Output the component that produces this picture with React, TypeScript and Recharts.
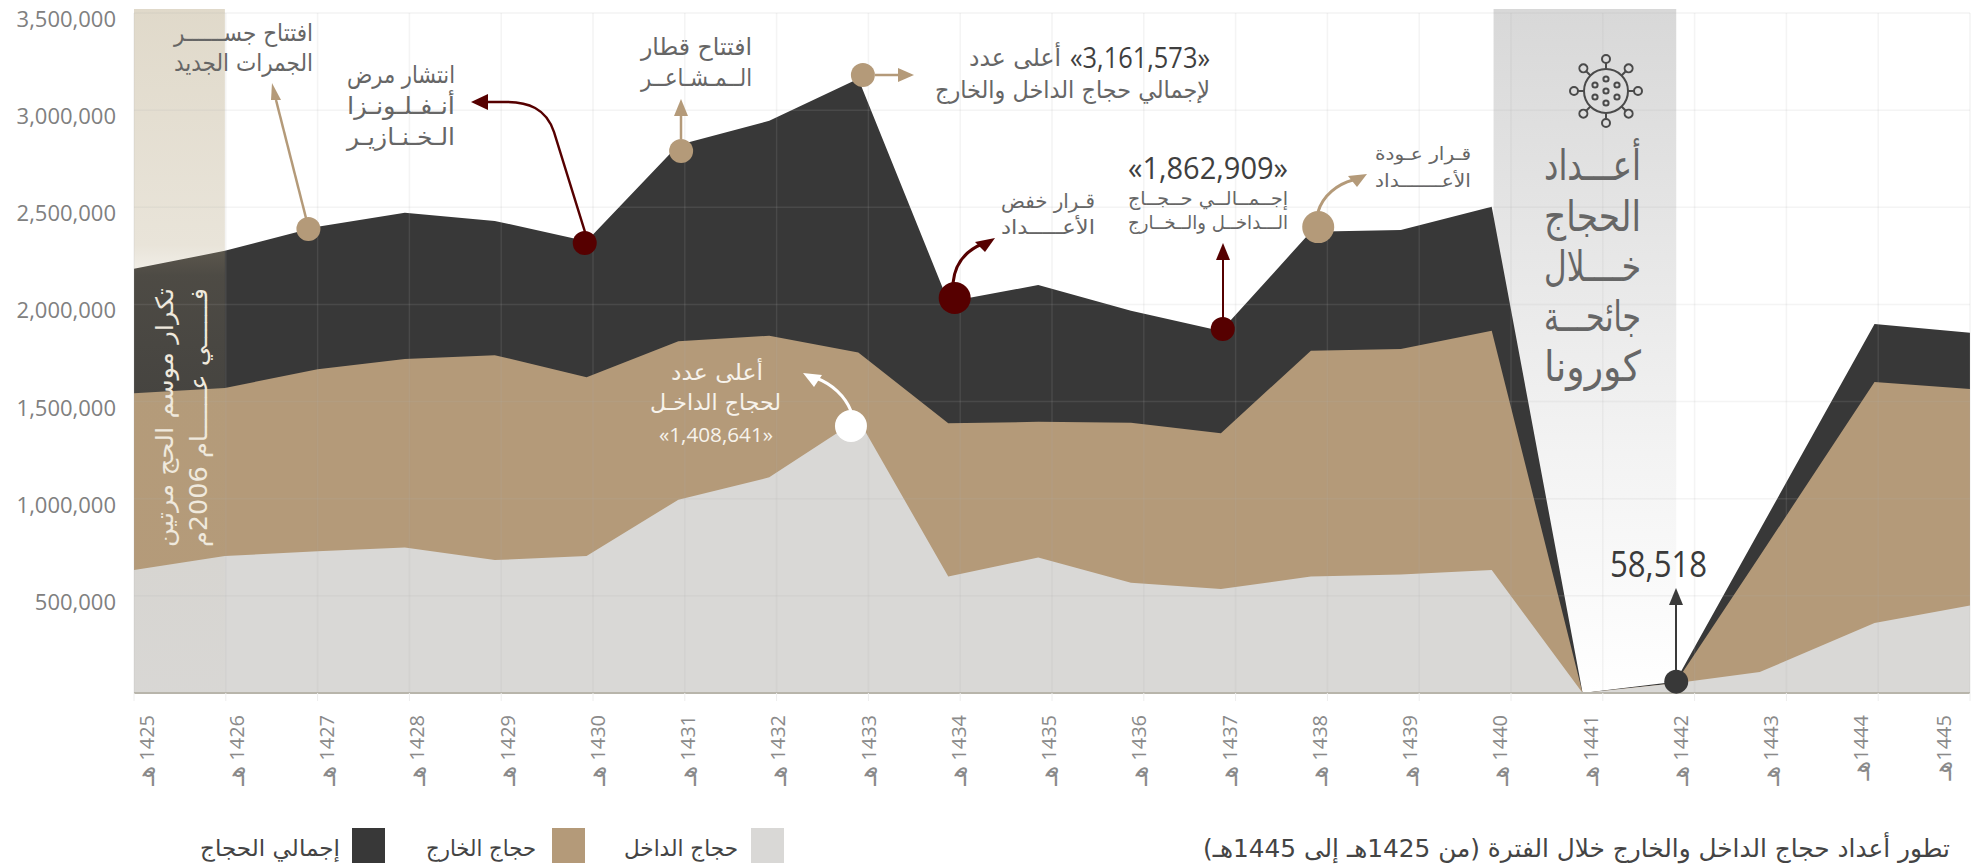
import React from 'react';
import { AreaChart, Area, XAxis, YAxis, ReferenceLine, ReferenceArea, ReferenceDot, Legend } from 'recharts';

const yearPositions = [1425, 1425.99, 1427.0, 1427.95, 1428.93, 1429.93, 1430.93, 1431.92, 1432.89, 1433.87, 1434.85, 1435.86, 1436.84, 1437.82, 1438.8, 1439.79, 1440.78, 1441.79, 1442.71, 1443.96, 1445];
const totalPilgrims = [2183000, 2276000, 2400000, 2472000, 2430000, 2325000, 2820000, 2945000, 3161573, 2014000, 2100000, 1968000, 1862909, 2374000, 2383000, 2503000, 0, 58518, 839000, 1899000, 1854000];
const foreignPilgrims = [1543000, 1570000, 1667000, 1719000, 1739000, 1625000, 1811000, 1839000, 1752932, 1388000, 1396000, 1391000, 1337000, 1762000, 1770000, 1865000, 0, 50000, 705000, 1601000, 1565000];
const domesticPilgrims = [633000, 705000, 730000, 749000, 684000, 705000, 995000, 1110000, 1408641, 600000, 697000, 567000, 535000, 600000, 610000, 633000, 0, 50000, 108000, 360000, 450000];
const yearTicks = [1425, 1426, 1427, 1428, 1429, 1430, 1431, 1432, 1433, 1434, 1435, 1436, 1437, 1438, 1439, 1440, 1441, 1442, 1443, 1444, 1445];
const valueTicks = [500000, 1000000, 1500000, 2000000, 2500000, 3000000, 3500000];

const chartData = yearPositions.map((pos, i) => ({
  pos,
  total: totalPilgrims[i],
  foreign: foreignPilgrims[i],
  domestic: domesticPilgrims[i],
}));

const DARK = '#383838';
const TAN = '#b49a79';
const LIGHT = '#d9d8d6';
const MAROON = '#560000';
const NOTE = '#666666';
const GRID = 'rgba(180,180,180,0.14)';
const AR = '"DejaVu Sans", sans-serif';
const NUM = '"Open Sans", sans-serif';

const markers = [
  { x: 1426.9, y: 2388000, r: 12, fill: TAN },
  { x: 1429.91, y: 2316000, r: 12, fill: MAROON },
  { x: 1430.96, y: 2790000, r: 12, fill: TAN },
  { x: 1432.94, y: 3181000, r: 12, fill: TAN },
  { x: 1433.94, y: 2033000, r: 16, fill: MAROON },
  { x: 1436.86, y: 1874000, r: 12, fill: MAROON },
  { x: 1437.9, y: 2398000, r: 16, fill: TAN },
  { x: 1432.81, y: 1374000, r: 16, fill: '#ffffff' },
  { x: 1441.8, y: 58518, r: 12, fill: DARK },
];

type Note = { t: string; x: number; y: number; w: number; s: number; c?: string; num?: boolean };
const notes: Note[] = [
  { t: 'افتتاح جســــــر', x: 313, y: 33, w: 139, s: 24 },
  { t: 'الجمرات الجديد', x: 313, y: 63, w: 139, s: 24 },
  { t: 'انتشار مرض', x: 455, y: 75, w: 108, s: 24 },
  { t: 'أنـفـلـونـزا', x: 455, y: 106, w: 108, s: 24 },
  { t: 'الـخـنـازيـر', x: 455, y: 137, w: 108, s: 24 },
  { t: 'افتتاح قطار', x: 752, y: 47, w: 111, s: 24 },
  { t: 'الــمـشـاعــر', x: 752, y: 78, w: 111, s: 24 },
  { t: '«3,161,573»', x: 1210, y: 56, w: 140, s: 30, c: '#3f3f3f', num: true },
  { t: 'أعلى عدد', x: 1061, y: 58, w: 92, s: 24 },
  { t: 'لإجمالي حجاج الداخل والخارج', x: 1210, y: 90, w: 275, s: 24 },
  { t: 'قـرار خفض', x: 1095, y: 201, w: 94, s: 20 },
  { t: 'الأعـــــداد', x: 1095, y: 227, w: 94, s: 20 },
  { t: '«1,862,909»', x: 1288, y: 167, w: 160, s: 31, c: '#3f3f3f', num: true },
  { t: 'إجــمــالــي حــجــاج', x: 1288, y: 198, w: 160, s: 19 },
  { t: 'الـــداخــل والــخــارج', x: 1288, y: 222, w: 160, s: 19 },
  { t: 'قـرار عـودة', x: 1471, y: 153, w: 96, s: 18 },
  { t: 'الأعـــــــداد', x: 1471, y: 180, w: 96, s: 18 },
  { t: 'أعلى عدد', x: 763, y: 372, w: 92, s: 22, c: '#f7f3ec' },
  { t: 'لحجاج الداخـل', x: 781, y: 402, w: 131, s: 22, c: '#f7f3ec' },
  { t: '«1,408,641»', x: 773, y: 434, w: 114, s: 20, c: '#f7f3ec', num: true },
  { t: 'أعـــداد', x: 1641, y: 165, w: 97, s: 42 },
  { t: 'الحجاج', x: 1641, y: 216, w: 97, s: 42 },
  { t: 'خــــلال', x: 1641, y: 266, w: 97, s: 42 },
  { t: 'جائحـــة', x: 1641, y: 316, w: 97, s: 42 },
  { t: 'كورونا', x: 1641, y: 366, w: 97, s: 42 },
  { t: '58,518', x: 1707, y: 563, w: 97, s: 36, c: '#3a3a3a', num: true },
  { t: 'تطور أعداد حجاج الداخل والخارج خلال الفترة (من 1425هـ إلى 1445هـ)', x: 1950, y: 848, w: 747, s: 25, c: '#444444' },
];

const verticalNotes = [
  { t: 'تكرار موسم الحج مرتين', cx: 165, top: 288, w: 259, s: 24 },
  { t: 'فــــــي عــــــام 2006م', cx: 199, top: 288, w: 259, s: 24 },
];

const arrows = [
  { d: 'M306 218 L276 100', c: TAN, w: 2.5 },
  { d: 'M585 232 L554 132 C546 108 528 102 505 102 L488 102', c: MAROON, w: 2.5 },
  { d: 'M681 139 L681 115', c: TAN, w: 2.5 },
  { d: 'M875 75 L899 75', c: TAN, w: 2.5 },
  { d: 'M953 283 C955 262 968 250 982 244', c: MAROON, w: 3 },
  { d: 'M1223 318 L1223 258', c: MAROON, w: 2 },
  { d: 'M1318 212 C1323 195 1338 184 1353 180', c: TAN, w: 3 },
  { d: 'M851 411 C845 396 832 384 816 378', c: '#ffffff', w: 3 },
  { d: 'M1676 671 L1676 603', c: '#3a3a3a', w: 2 },
];
const heads = [
  { p: '272,83 281,100 271,100', c: TAN },
  { p: '471,102 488,94 488,110', c: MAROON },
  { p: '681,99 674,116 688,116', c: TAN },
  { p: '914,75 898,68 898,82', c: TAN },
  { p: '995,238 975,242 985,252', c: MAROON },
  { p: '1223,243 1216,260 1230,260', c: MAROON },
  { p: '1367,174 1348,176 1357,187', c: TAN },
  { p: '803,373 822,375 814,387', c: '#ffffff' },
  { p: '1676,588 1669,605 1683,605', c: '#3a3a3a' },
];

const spikeAngles = [0, 45, 90, 135, 180, 225, 270, 315];
const innerSpots = [[0, 0], [0, -12], [0, 12], [-11, -6], [11, -6], [-11, 6], [11, 6]];

const legendItems = [
  { label: 'حجاج الداخل', color: LIGHT, swatch: 751, right: 738, w: 114 },
  { label: 'حجاج الخارج', color: TAN, swatch: 552, right: 536, w: 110 },
  { label: 'إجمالي الحجاج', color: DARK, swatch: 352, right: 340, w: 140 },
];

const fitted = (n: Note, key: number) => (
  <text
    key={key}
    x={n.x}
    y={n.y}
    direction={n.num ? 'ltr' : 'rtl'}
    textAnchor={n.num ? 'end' : 'start'}
    dominantBaseline="central"
    fontFamily={n.num ? NUM : AR}
    fontSize={n.s}
    fill={n.c ?? NOTE}
    textLength={n.w}
    lengthAdjust="spacingAndGlyphs"
  >
    {n.t}
  </text>
);

const ValueTick = (props: any) => (
  <text x={props.x} y={props.y + 5} textAnchor="end" dominantBaseline="central" fontFamily={NUM} fontSize={22} fill="#808080">
    {Number(props.payload.value).toLocaleString('en-US')}
  </text>
);

const YearTick = (props: any) => {
  const { x, payload } = props;
  const year = Number(payload.value);
  const labelX = x + 12 - (year - 1425) * 1.55;
  return (
    <g transform={`translate(${labelX},715) rotate(-90)`}>
      <text textAnchor="end" direction="ltr" dominantBaseline="central" fontFamily={NUM} fontSize={20} fill="#8a8a8a">
        <tspan fontFamily={AR} fontSize={24}>{'هـ\u200E'}</tspan>
        {year >= 1444 ? `\u200E${year}` : `\u200E  ${year}`}
      </text>
    </g>
  );
};

const LegendBox = () => (
  <div style={{ position: 'relative', width: 1978, height: 38 }}>
    {legendItems.map((it) => (
      <div key={it.label}>
        <div style={{ position: 'absolute', left: it.swatch, top: 0, width: 33, height: 35, background: it.color }} />
        <svg style={{ position: 'absolute', left: it.right - it.w, top: 0, overflow: 'visible' }} width={it.w} height={38}>
          <text x={it.w} y={20} direction="rtl" textAnchor="start" dominantBaseline="central" fontFamily={AR} fontSize={23} fill="#444444" textLength={it.w} lengthAdjust="spacingAndGlyphs">
            {it.label}
          </text>
        </svg>
      </div>
    ))}
  </div>
);

export default function App() {
  return (
    <div style={{ position: 'absolute', left: 0, top: 0, width: 1978, height: 866, overflow: 'hidden', background: '#fff' }}>
      <AreaChart width={1978} height={866} data={chartData} margin={{ top: 13, right: 8, bottom: 35, left: 0 }}>
        <defs>
          <linearGradient id="covidBand" x1="0" y1="0" x2="0" y2="1">
            <stop offset="0" stopColor="#d8d8d8" />
            <stop offset="0.65" stopColor="#f3f3f3" />
            <stop offset="1" stopColor="#ffffff" />
          </linearGradient>
          <linearGradient id="seasonBand" x1="0" y1="0" x2="0" y2="1">
            <stop offset="0" stopColor="#b5a581" stopOpacity="0.42" />
            <stop offset="0.345" stopColor="#b5a581" stopOpacity="0.3" />
            <stop offset="0.39" stopColor="#b5a581" stopOpacity="0.17" />
            <stop offset="0.6" stopColor="#b5a581" stopOpacity="0.1" />
            <stop offset="1" stopColor="#b5a581" stopOpacity="0.02" />
          </linearGradient>
        </defs>
        <ReferenceArea x1={1439.81} x2={1441.8} y1={0} y2={3520000} fill="url(#covidBand)" fillOpacity={1} stroke="none" ifOverflow="visible" />
        <XAxis
          dataKey="pos"
          type="number"
          domain={[1425, 1445]}
          ticks={yearTicks}
          height={100}
          tick={<YearTick />}
          tickLine={{ stroke: '#eeeeee' }}
          tickSize={8}
          axisLine={{ stroke: '#b8b5ab', strokeWidth: 2 }}
        />
        <YAxis
          type="number"
          domain={[0, 3500000]}
          ticks={valueTicks}
          width={134}
          tick={<ValueTick />}
          tickLine={false}
          tickSize={0}
          tickMargin={18}
          axisLine={false}
        />
        <Area type="linear" dataKey="total" name="إجمالي الحجاج" stroke="none" fill={DARK} fillOpacity={1} dot={false} activeDot={false} isAnimationActive={false} />
        <Area type="linear" dataKey="foreign" name="حجاج الخارج" stroke="none" fill={TAN} fillOpacity={1} dot={false} activeDot={false} isAnimationActive={false} />
        <Area type="linear" dataKey="domestic" name="حجاج الداخل" stroke="none" fill={LIGHT} fillOpacity={1} dot={false} activeDot={false} isAnimationActive={false} />
        {valueTicks.map((v) => (
          <ReferenceLine key={v} y={v} stroke={GRID} strokeWidth={1.5} />
        ))}
        {yearTicks.map((v) => (
          <ReferenceLine key={v} x={v} stroke={GRID} strokeWidth={1.5} />
        ))}
        <ReferenceArea x1={1425} x2={1425.99} y1={0} y2={3520000} fill="url(#seasonBand)" fillOpacity={1} stroke="none" ifOverflow="visible" />
        {markers.map((m, i) => (
          <ReferenceDot key={i} x={m.x} y={m.y} r={m.r} fill={m.fill} stroke="none" ifOverflow="visible" />
        ))}
        <Legend content={<LegendBox />} wrapperStyle={{ position: 'absolute', left: 0, top: 828, width: 1978, height: 38 }} />
      </AreaChart>
      <svg width={1978} height={866} style={{ position: 'absolute', left: 0, top: 0, pointerEvents: 'none' }}>
        {arrows.map((a, i) => (
          <path key={i} d={a.d} fill="none" stroke={a.c} strokeWidth={a.w} />
        ))}
        {heads.map((h, i) => (
          <polygon key={i} points={h.p} fill={h.c} />
        ))}
        {notes.map(fitted)}
        {verticalNotes.map((v, i) => (
          <g key={i} transform={`translate(${v.cx},${v.top}) rotate(-90)`}>
            <text x={0} y={0} direction="rtl" textAnchor="start" dominantBaseline="central" fontFamily={AR} fontSize={v.s} fill="#efe9dd" textLength={v.w} lengthAdjust="spacingAndGlyphs">
              {v.t}
            </text>
          </g>
        ))}
        <g transform="translate(1606,91)" fill="none" stroke="#4a4a4a" strokeWidth={2}>
          <circle r={22} />
          {spikeAngles.map((a) => (
            <g key={a} transform={`rotate(${a})`}>
              <line x1={0} y1={-22} x2={0} y2={-28} />
              <circle cy={-32} r={4} />
            </g>
          ))}
          {innerSpots.map(([sx, sy], i) => (
            <circle key={i} cx={sx} cy={sy} r={2.6} />
          ))}
        </g>
      </svg>
    </div>
  );
}
